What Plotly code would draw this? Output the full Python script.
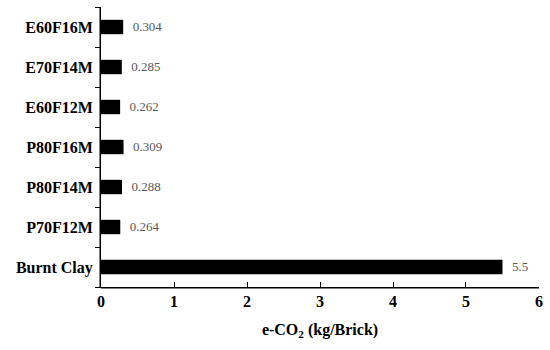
import plotly.graph_objects as go

categories = ["Burnt Clay", "P70F12M", "P80F14M", "P80F16M", "E60F12M", "E70F14M", "E60F16M"]
values = [5.5, 0.264, 0.288, 0.309, 0.262, 0.285, 0.304]
labels = ["5.5", "0.264", "0.288", "0.309", "0.262", "0.285", "0.304"]
x_ticks = [0, 1, 2, 3, 4, 5, 6]

fig = go.Figure(go.Bar(
    y=categories, x=values, orientation="h",
    marker=dict(color="black", line=dict(width=0)),
    width=0.36,
    text=labels, texttemplate="  %{text}", textposition="outside", cliponaxis=False,
    textfont=dict(family="Liberation Serif", size=13.5, color="#595959"),
))

fig.update_layout(
    width=550, height=350,
    margin=dict(l=101, r=11, t=7, b=63, autoexpand=False),
    plot_bgcolor="white", paper_bgcolor="white",
    showlegend=False,
    font=dict(family="Liberation Serif", color="black"),
    xaxis=dict(
        range=[0, 6.0001], tickvals=x_ticks, ticktext=[f"<b>{t}</b>" for t in x_ticks],
        showgrid=False, zeroline=False,
        showline=True, linecolor="black", linewidth=1,
        ticks="inside", ticklen=5, tickcolor="black", tickwidth=1,
        tickfont=dict(family="Liberation Serif", size=16, color="black"),
        title=dict(text="<b>e-CO<sub>2</sub> (kg/Brick)</b>",
                   font=dict(family="Liberation Serif", size=16, color="black"),
                   standoff=14),
    ),
    yaxis=dict(
        type="category", showgrid=False, zeroline=False,
        tickvals=categories, ticktext=[f"<b>{c}</b> " for c in categories],
        showline=True, linecolor="black", linewidth=1,
        ticks="outside", ticklen=5, tickcolor="black", tickwidth=1, tickson="boundaries",
        tickfont=dict(family="Liberation Serif", size=16, color="black"),
    ),
)

# solid overlays along the axis lines (pixel-sized filled strips)
fig.add_shape(type="rect", xref="paper", yref="paper", ysizemode="pixel", yanchor=0,
              x0=0, x1=1, y0=-1.5, y1=0, fillcolor="black", line=dict(width=0), layer="above")
fig.add_shape(type="rect", xref="paper", yref="paper", xsizemode="pixel", xanchor=0,
              x0=-1.5, x1=0, y0=0, y1=1, fillcolor="black", line=dict(width=0), layer="above")

fig.write_html("out.html", config={"displayModeBar": False},
               post_script="document.body.style.margin='0';document.body.style.overflow='hidden';")
